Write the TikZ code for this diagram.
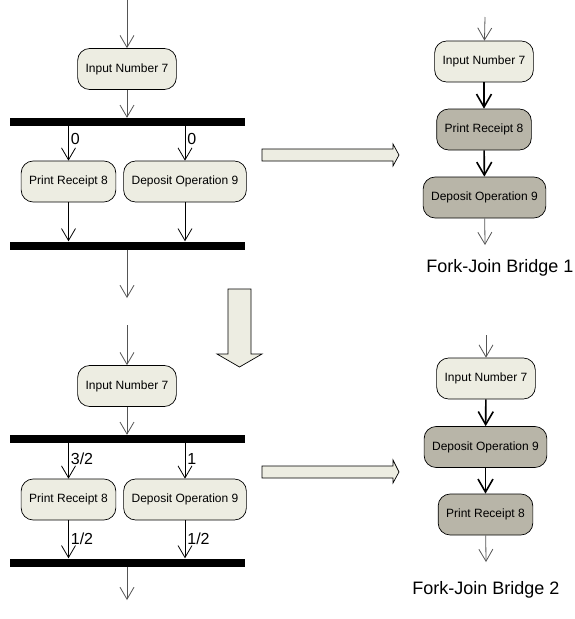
\documentclass[tikz,border=0pt]{standalone}
\usepackage{fontspec}
\setmainfont{Liberation Sans}
\usetikzlibrary{arrows.meta}
\definecolor{actfill}{RGB}{237,237,226}
\definecolor{bridgefill}{RGB}{184,181,168}
\definecolor{edgegray}{RGB}{85,85,85}

\begin{document}
\begin{tikzpicture}[x=1pt, y=-1pt,
		act/.style={draw, line width=0.7pt, rounded corners=12pt, fill=actfill, minimum height=41pt, inner xsep=8pt, font=\fontsize{12}{14}\selectfont},
		bridge/.style={act, fill=bridgefill},
		bar/.style={fill=black, minimum width=235pt, minimum height=8pt, inner sep=0pt},
		flow/.style={edgegray, line width=0.8pt, -{Straight Barb[length=12pt, width=14pt]}},
		edge/.style={black, line width=0.8pt, -{Straight Barb[length=12pt, width=14pt]}},
		strong/.style={black, line width=1.6pt, -{Straight Barb[length=13pt, width=15pt]}},
		weight/.style={anchor=west, inner sep=2pt, font=\fontsize{16}{18}\selectfont},
		caption/.style={font=\fontsize{18}{20}\selectfont},
		bigarrow/.style={draw, line width=0.7pt, fill=actfill}]
			\useasboundingbox (0,0) rectangle (575,619);

			% fork and join, first version
			\coordinate (c1) at (127,0);
			\draw node[act] (1) at (127,69) {Input Number 7};
			\draw node[bar] (2) at (127,122) {};
			\draw node[act] (3) at (68.5,181.5) {Print Receipt 8};
			\draw node[act] (4) at (185,181.5) {Deposit Operation 9};
			\draw node[bar] (5) at (127,245.5) {};
			\coordinate (c2) at (127,298);

			\draw[flow] (c1) -- (1);
			\draw[flow] (1) -- (2);
			\draw[edge] (3 |- 2.south) -- (3) node[weight, pos=0.37] {0};
			\draw[edge] (4 |- 2.south) -- (4) node[weight, pos=0.37] {0};
			\draw[edge] (3) -- (3 |- 5.north);
			\draw[edge] (4) -- (4 |- 5.north);
			\draw[flow] (5) -- (c2);

			% fork and join, weighted version
			\coordinate (c7) at (127,325);
			\draw node[act] (14) at (127,386) {Input Number 7};
			\draw node[bar] (15) at (127,439) {};
			\draw node[act] (16) at (68.5,499.5) {Print Receipt 8};
			\draw node[act] (17) at (185,499.5) {Deposit Operation 9};
			\draw node[bar] (18) at (127,562.5) {};
			\coordinate (c8) at (127,600);

			\draw[flow] (c7) -- (14);
			\draw[flow] (14) -- (15);
			\draw[edge] (16 |- 15.south) -- (16) node[weight, pos=0.44] {3/2};
			\draw[edge] (17 |- 15.south) -- (17) node[weight, pos=0.44] {1};
			\draw[edge] (16) -- (16 |- 18.north) node[weight, pos=0.49] {1/2};
			\draw[edge] (17) -- (17 |- 18.north) node[weight, pos=0.49] {1/2};
			\draw[flow] (18) -- (c8);

			% bridge 1
			\coordinate (c3) at (485,17);
			\draw node[act] (6) at (484,61.5) {Input Number 7};
			\draw node[bridge] (7) at (484,129.5) {Print Receipt 8};
			\draw node[bridge] (8) at (484.5,197.5) {Deposit Operation 9};
			\coordinate (c4) at (485,245);
			\draw node[caption] (9) at (500,268) {Fork-Join Bridge 1};

			\draw[flow] (c3) -- (6);
			\draw[strong] (6) -- (7);
			\draw[strong] (7) -- (8);
			\draw[flow] (8) -- (c4);

			% bridge 2
			\coordinate (c5) at (486,335);
			\draw node[act] (10) at (486,378.5) {Input Number 7};
			\draw node[bridge] (11) at (485.5,447) {Deposit Operation 9};
			\draw node[bridge] (12) at (485.5,514.5) {Print Receipt 8};
			\coordinate (c6) at (486,562);
			\draw node[caption] (13) at (486,590) {Fork-Join Bridge 2};

			\draw[flow] (c5) -- (10);
			\draw[strong] (10) -- (11);
			\draw[strong] (11) -- (12);
			\draw[flow] (12) -- (c6);

			% block arrows
			\draw[bigarrow] (262,149) -- (393,149) -- (393,144) -- (399,155) -- (393,166) -- (393,161) -- (262,161) -- cycle;
			\draw[bigarrow] (262,466) -- (393,466) -- (393,460) -- (399,472) -- (393,483) -- (393,478) -- (262,478) -- cycle;
			\draw[bigarrow] (228,289) -- (251,289) -- (251,354) -- (262,354) -- (239.5,367) -- (217,354) -- (228,354) -- cycle;
		\end{tikzpicture}
\end{document}
